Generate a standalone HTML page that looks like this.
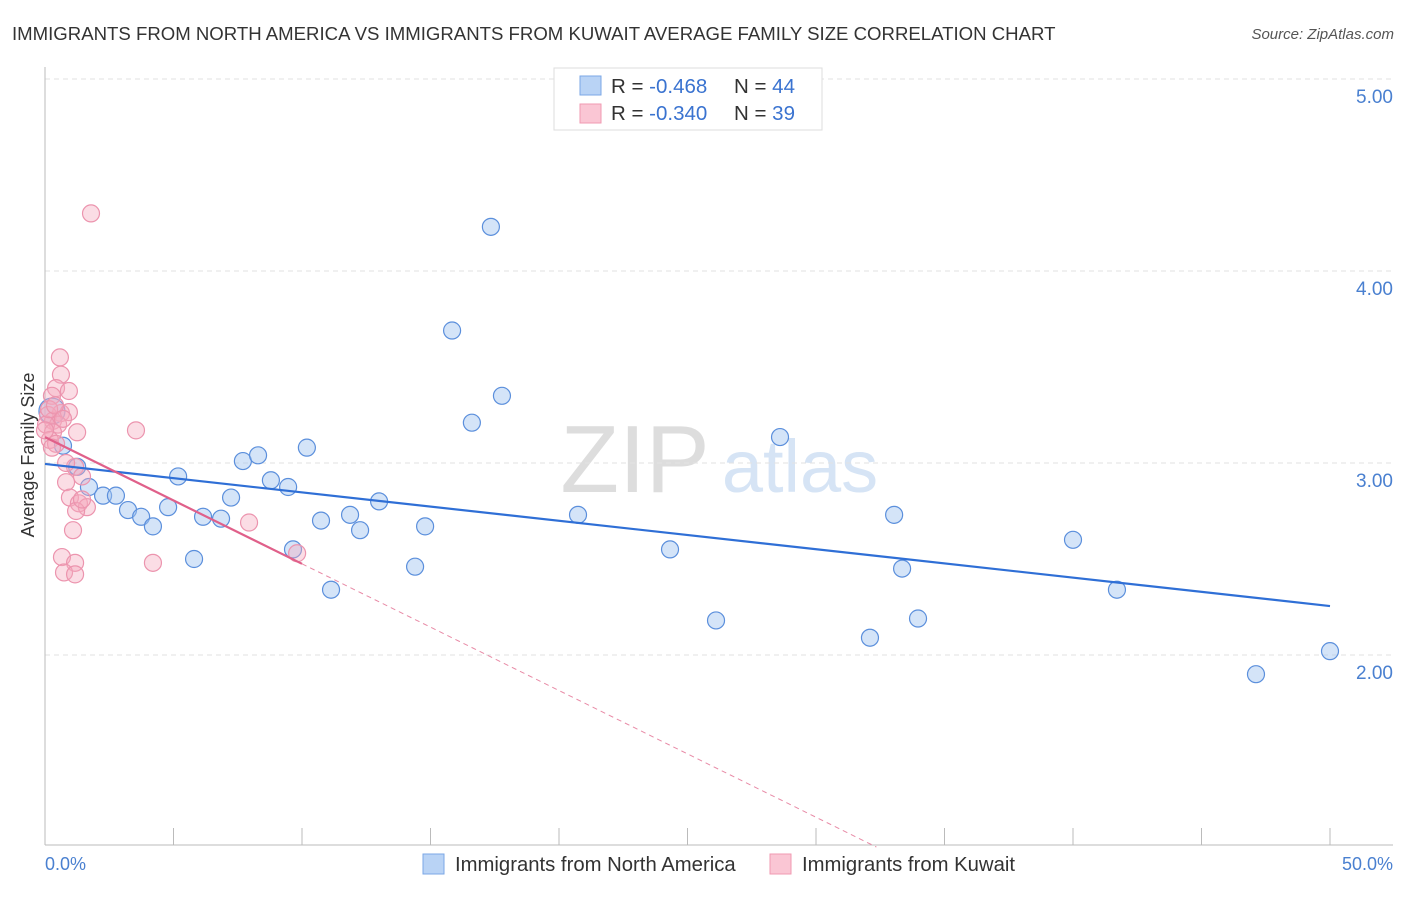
<!DOCTYPE html>
<html><head><meta charset="utf-8"><style>
body{margin:0;background:#fff;font-family:"Liberation Sans",sans-serif}
svg text{font-family:"Liberation Sans",sans-serif}
</style></head><body>
<svg id="c" width="1406" height="892">
<text x="12" y="40" font-size="18.6" fill="#333">IMMIGRANTS FROM NORTH AMERICA VS IMMIGRANTS FROM KUWAIT AVERAGE FAMILY SIZE CORRELATION CHART</text>
<text x="1394" y="39" font-size="15" fill="#555" font-style="italic" text-anchor="end">Source: ZipAtlas.com</text>
<text x="635" y="492" font-size="96" fill="#ddd" font-family="Liberation Serif" text-anchor="middle">ZIP</text>
<text x="800" y="492" font-size="74" fill="#d6e4f5" text-anchor="middle">atlas</text>
<g id="grid"></g><g id="pts"></g><g id="trend"></g>
<text transform="translate(34,455) rotate(-90)" font-size="18" fill="#333" text-anchor="middle">Average Family Size</text>
<text x="45" y="870" font-size="18" fill="#4a80d0">0.0%</text>
<text x="1393" y="870" font-size="18" fill="#4a80d0" text-anchor="end">50.0%</text>
<g>
<rect x="554" y="68" width="268" height="62" fill="#fff" stroke="#ddd"/>
<rect x="580" y="76" width="21" height="19" fill="#b9d3f5" stroke="#7ba7e6"/>
<rect x="580" y="104" width="21" height="19" fill="#fac6d4" stroke="#f09ab2"/>
<text x="611" y="93" font-size="20.5" fill="#333">R = <tspan fill="#3a73d0">-0.468</tspan><tspan x="734">N = </tspan><tspan fill="#3a73d0">44</tspan></text>
<text x="611" y="120" font-size="20.5" fill="#333">R = <tspan fill="#3a73d0">-0.340</tspan><tspan x="734">N = </tspan><tspan fill="#3a73d0">39</tspan></text>
</g>
<g>
<rect x="423" y="854" width="21" height="20" fill="#b9d3f5" stroke="#7ba7e6"/>
<text x="455" y="871" font-size="20.3" fill="#333">Immigrants from North America</text>
<rect x="770" y="854" width="21" height="20" fill="#fac6d4" stroke="#f09ab2"/>
<text x="802" y="871" font-size="20.3" fill="#333">Immigrants from Kuwait</text>
</g>
</svg>
<script>
const blueX=[0.27,0.70,1.25,1.71,2.26,2.76,3.23,3.74,4.20,4.79,5.18,5.80,6.15,6.85,7.24,7.70,8.29,8.79,9.46,9.65,10.19,10.74,11.13,11.87,12.26,13.00,14.40,14.79,15.84,16.61,17.35,17.78,20.74,24.32,26.11,28.60,32.10,33.04,33.35,33.97,40.00,41.71,47.12,50.00];
const blueY=[3.27,3.09,2.98,2.875,2.83,2.83,2.755,2.72,2.67,2.77,2.93,2.50,2.72,2.71,2.82,3.01,3.04,2.91,2.875,2.55,3.08,2.70,2.34,2.73,2.65,2.80,2.46,2.67,3.69,3.21,4.23,3.35,2.73,2.55,2.18,3.135,2.09,2.73,2.45,2.19,2.60,2.34,1.90,2.02];
const pinkX=[0.58,0.62,0.43,0.93,0.27,0.62,0.93,0.12,0.31,0.51,0.04,0.31,1.25,0.19,0.43,3.54,1.79,1.17,1.44,0.82,0.97,1.32,1.63,1.21,1.09,0.66,1.17,0.74,1.17,4.20,7.94,9.81,0.16,0.39,0.70,0,0.82,1.44,0.27];
const pinkY=[3.55,3.46,3.39,3.375,3.35,3.26,3.265,3.25,3.22,3.20,3.20,3.16,3.16,3.12,3.10,3.17,4.30,2.98,2.93,2.90,2.82,2.79,2.77,2.75,2.65,2.51,2.48,2.43,2.42,2.48,2.69,2.53,3.28,3.30,3.23,3.17,3.00,2.81,3.08];
const blueTrend=[2.995,2.255];
const pinkTrend=[3.135,2.475];
const yTicks=[2,3,4,5];
const xTickPcts=[0,5,10,15,20,25,30,35,40,45,50];
const NS='http://www.w3.org/2000/svg';
const X=p=>45+p*25.7, Y=v=>463-(v-3)*192;
function mk(t,a,parent){const e=document.createElementNS(NS,t);for(const k in a)e.setAttribute(k,a[k]);document.getElementById(parent).appendChild(e);return e;}
yTicks.forEach(v=>{
 const l=mk('line',{x1:45,x2:1393,y1:Y(v),y2:Y(v),stroke:'#e2e2e2','stroke-dasharray':'5,4'},'grid');
 
 
 const t=mk('text',{x:1393,y:Y(v)+24,'font-size':19,fill:'#4a80d0','text-anchor':'end'},'grid');t.textContent=v.toFixed(2);
 
 
});
const ya=mk('line',{x1:45,x2:45,y1:67,y2:845,stroke:'#bbb'},'grid');


const xa=mk('line',{x1:45,x2:1393,y1:845,y2:845,stroke:'#bbb'},'grid');


xTickPcts.forEach(p=>{const t=mk('line',{x1:X(p),x2:X(p),y1:828,y2:845,stroke:'#bbb'},'grid');
 
 });
blueX.forEach((p,i)=>{const c=mk('circle',{cx:X(p),cy:Y(blueY[i]),r:i==0?13:8.5,fill:'rgba(160,195,240,0.45)',stroke:'#5b8fdc','stroke-width':1.2},'pts');
 
 });
pinkX.forEach((p,i)=>{const c=mk('circle',{cx:X(p),cy:Y(pinkY[i]),r:8.5,fill:'rgba(245,170,190,0.4)',stroke:'#ec94ae','stroke-width':1.2},'pts');
 
 });
const bt=mk('line',{x1:X(0),y1:Y(blueTrend[0]),x2:X(50),y2:Y(blueTrend[1]),stroke:'#2f6fd6','stroke-width':2.2},'trend');


const slope=(pinkTrend[1]-pinkTrend[0])/10;
const xEnd=(1-pinkTrend[0])/slope;
const pt=mk('line',{x1:X(0),y1:Y(pinkTrend[0]),x2:X(10),y2:Y(pinkTrend[1]),stroke:'#e0608a','stroke-width':2.2},'trend');


const pd=mk('line',{x1:X(10),y1:Y(pinkTrend[1]),x2:X(xEnd),y2:Y(1),stroke:'#e88aa6','stroke-width':1,'stroke-dasharray':'5,4'},'trend');


</script>
</body></html>
